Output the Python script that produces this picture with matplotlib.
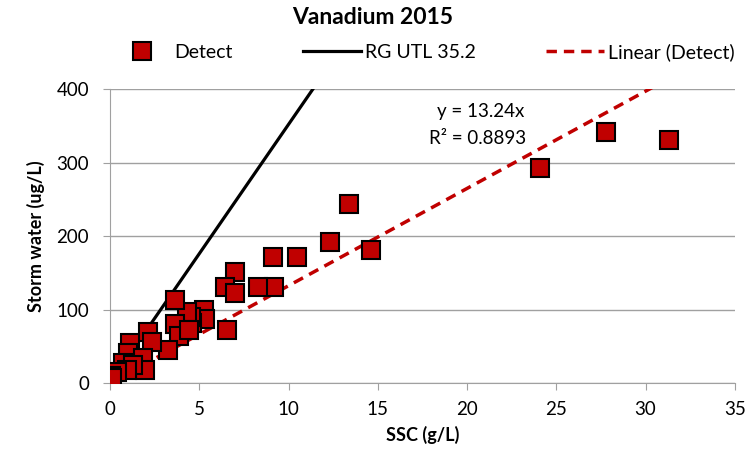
import numpy as np
import matplotlib.pyplot as plt

plt.rcParams['font.family'] = ['Lato', 'DejaVu Sans']

# SSC (g/L) vs storm water vanadium (ug/L), detected samples
ssc = [31.3, 27.8, 24.1, 14.6, 13.4, 12.3, 10.5, 9.15, 9.2, 8.3,
       7.0, 6.45, 7.0, 6.55, 5.25, 5.3, 4.6, 4.55, 4.3, 3.65,
       3.65, 3.85, 4.4, 3.25, 2.1, 2.35, 1.1, 1.0, 1.85, 1.95,
       0.75, 1.3, 0.95, 0.4, 0.05, 0.1]
storm = [331, 342, 292, 181, 243, 192, 172, 172, 131, 131,
         151, 131, 122, 72, 100, 87, 82, 90, 97, 113,
         80, 64, 72, 45, 70, 56, 54, 41, 34, 18,
         27, 25, 18, 15, 10, 7]

utl_slope = 35.2          # RG UTL
utl_x = [1.6, 11.4]
fit_slope = 13.24         # linear trend through origin
fit_r2 = 0.8893

red = '#C00000'

fig = plt.figure(figsize=(7.46, 4.57), dpi=100)
ax = fig.add_axes([0.1475, 0.162, 0.8375, 0.643])

ax.plot(ssc, storm, 's', ms=12.5, mfc=red, mec='black', mew=1.5,
        label='Detect', zorder=4)
ux = np.array(utl_x)
ax.plot(ux, utl_slope * ux, color='black', lw=2.3, label='RG UTL 35.2', zorder=3)
fx = np.array([min(ssc), max(ssc)])
ax.plot(fx, fit_slope * fx, color=red, lw=2.5, ls=(0, (3, 2)),
        label='Linear (Detect)', zorder=3)

ax.text(23.2, 370, f'y = {fit_slope}x', ha='right', va='center', fontsize=13.5)
ax.text(23.3, 333, f'R² = {fit_r2}', ha='right', va='center', fontsize=13.5)

ax.set_xlim(0, 35)
ax.set_ylim(0, 400)
ax.set_xticks(range(0, 36, 5))
ax.set_yticks(range(0, 401, 100))
ax.yaxis.grid(True, color='#a0a0a0', lw=1)
ax.set_axisbelow(True)
for s in ['top', 'right']:
    ax.spines[s].set_visible(False)
for s in ['left', 'bottom']:
    ax.spines[s].set_color('#a0a0a0')
ax.tick_params(colors='#a0a0a0', labelcolor='black', labelsize=13.5, length=5)
ax.tick_params(axis='x', pad=8)
ax.tick_params(axis='y', pad=10)

ax.set_xlabel('SSC (g/L)', fontsize=13, fontweight='bold', labelpad=6)
ax.set_ylabel('Storm water (ug/L)', fontsize=13, fontweight='bold', labelpad=8)
fig.suptitle('Vanadium 2015', fontsize=16.5, fontweight='bold', y=0.985)

fig.legend(loc='center', bbox_to_anchor=(0.568, 0.886), ncol=3, frameon=False,
           fontsize=14, handlelength=3.0, handletextpad=0.2, columnspacing=3.6)

fig.savefig('out.png', dpi=100)
